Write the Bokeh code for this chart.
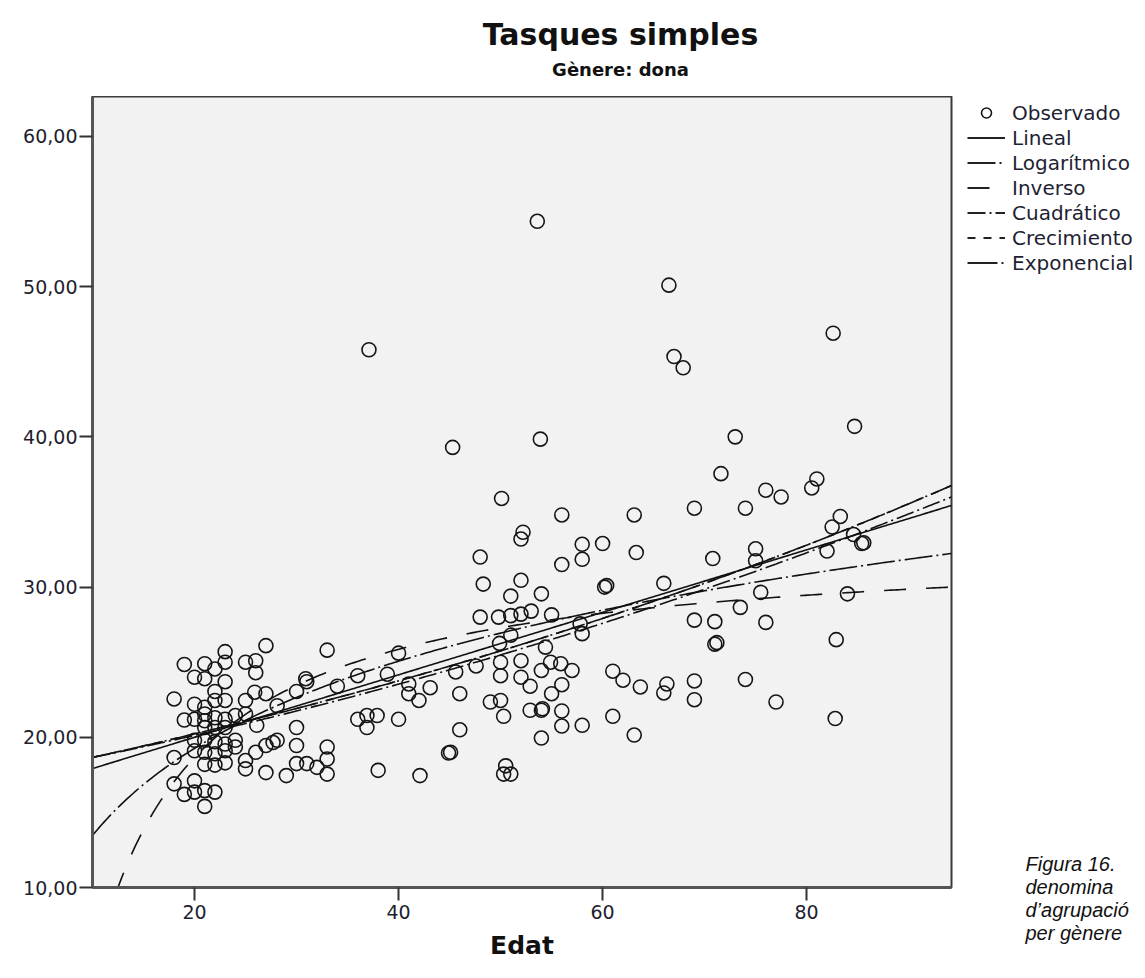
import numpy as np
from bokeh.plotting import figure
from bokeh.layouts import row, column
from bokeh.models import Range1d, FixedTicker, Legend, LegendItem, Label
from bokeh.embed import file_html
from bokeh.resources import INLINE

# ---------------- data ----------------
x_obs = [
    # young cluster
    27.0, 33.0, 23.0, 23.0, 19.0, 21.0, 22.0, 25.0, 26.0, 26.0,
    20.0, 21.0, 23.0, 30.9, 31.0, 22.0, 25.9, 27.0, 28.1, 30.0,
    34.0, 36.0, 18.0, 20.0, 21.0, 22.0, 23.0, 25.0, 19.0, 20.0,
    21.0, 21.0, 21.0, 22.0, 22.0, 23.0, 23.0, 24.0, 25.0, 26.1,
    30.0, 36.9, 37.9, 36.0, 36.9, 38.0, 18.0,
    20.0, 21.0, 22.0, 23.0, 24.0,
    20.0, 21.0, 22.0, 23.0, 24.0,
    21.0, 22.0, 23.0, 25.0, 25.0, 26.0, 27.0, 27.7, 28.1,
    27.0, 29.0, 30.0, 30.0, 31.0, 32.0, 33.0, 33.0, 33.0,
    18.0, 19.0, 20.0, 20.0, 21.0, 22.0, 21.0,
    # middle ages
    50.1, 56.0, 63.1, 69.0, 52.2, 52.0, 58.0, 60.0, 48.0, 56.0,
    58.0, 63.3, 70.8, 48.3, 52.0, 60.2, 60.4, 66.0, 51.0, 54.0,
    48.0, 49.8, 51.0, 52.0, 53.0, 55.0, 57.8, 69.0, 71.0, 58.0,
    51.0, 49.9, 71.0, 71.2, 40.0, 54.4, 38.9, 41.0, 41.0, 42.0,
    43.1, 45.6, 47.6, 50.0, 50.0, 52.0, 54.0, 54.9, 55.9, 57.0,
    52.0, 52.9, 56.0, 55.0, 46.0, 61.0, 62.0, 63.7, 66.3, 66.0,
    69.0, 69.0, 49.0, 50.0, 50.3, 52.9, 54.1, 54.0, 56.0, 56.0,
    58.0, 61.0, 63.1, 54.0, 46.0, 40.0, 44.9, 45.1, 42.1, 50.5,
    50.3, 51.0,
    # older ages
    84.7, 73.0, 71.6, 76.0, 77.5, 74.0, 81.0, 80.5, 83.3, 82.5,
    84.6, 85.4, 85.6, 75.0, 75.0, 82.0, 75.5, 84.0, 73.5, 76.0,
    82.9, 74.0, 77.0, 82.8,
    # outliers
    66.5, 67.0, 67.9, 82.6, 37.1, 53.6, 45.3, 53.9,
]
y_obs = [
    26.1, 25.8, 25.7, 25.0, 24.85, 24.9, 24.55, 25.0, 25.1, 24.3,
    24.0, 23.9, 23.7, 23.9, 23.7, 23.05, 23.0, 22.9, 22.1, 23.05,
    23.4, 24.1, 22.55, 22.2, 22.0, 22.45, 22.45, 22.45, 21.15, 21.2,
    21.55, 21.1, 20.65, 21.3, 20.65, 21.2, 20.65, 21.45, 21.55, 20.8,
    20.65, 21.45, 21.45, 21.2, 20.65, 17.8, 18.65,
    19.8, 19.8, 19.7, 19.55, 19.8,
    19.1, 19.0, 18.9, 19.1, 19.35,
    18.2, 18.15, 18.3, 18.45, 17.9, 19.0, 19.45, 19.65, 19.8,
    17.65, 17.45, 19.45, 18.25, 18.25, 18.0, 19.35, 18.55, 17.55,
    16.9, 16.2, 17.1, 16.35, 16.45, 16.35, 15.4,
    35.9, 34.8, 34.8, 35.25, 33.65, 33.2, 32.85, 32.9, 32.0, 31.5,
    31.85, 32.3, 31.9, 30.2, 30.45, 30.0, 30.1, 30.25, 29.4, 29.55,
    28.0, 28.0, 28.1, 28.2, 28.4, 28.15, 27.55, 27.8, 27.7, 26.9,
    26.8, 26.25, 26.2, 26.3, 25.6, 26.0, 24.2, 23.55, 22.9, 22.45,
    23.3, 24.35, 24.75, 25.0, 24.1, 25.1, 24.45, 25.0, 24.9, 24.45,
    24.0, 23.4, 23.5, 22.9, 22.9, 24.4, 23.8, 23.35, 23.55, 22.95,
    23.75, 22.5, 22.35, 22.45, 21.4, 21.8, 21.9, 21.8, 21.75, 20.75,
    20.8, 21.4, 20.15, 19.95, 20.5, 21.2, 18.95, 19.0, 17.45, 18.1,
    17.55, 17.55,
    40.7, 40.0, 37.55, 36.45, 36.0, 35.25, 37.2, 36.6, 34.7, 34.0,
    33.5, 32.9, 32.95, 32.55, 31.75, 32.4, 29.65, 29.55, 28.65, 27.65,
    26.5, 23.85, 22.35, 21.25,
    50.1, 45.35, 44.6, 46.9, 45.8, 54.35, 39.3, 39.85,
]

x_ticks = [20, 40, 60, 80]
x_tick_labels = ["20", "40", "60", "80"]
y_ticks = [10, 20, 30, 40, 50, 60]
y_tick_labels = ["10,00", "20,00", "30,00", "40,00", "50,00", "60,00"]

model_names = ["Lineal", "Logarítmico", "Inverso", "Cuadrático", "Crecimiento", "Exponencial"]
lineal_coef = [15.84, 0.208]                 # b0 + b1*x
logaritmico_coef = [-5.82, 8.373]            # b0 + b1*ln(x)
inverso_coef = [33.06, -288.2]               # b0 + b1/x
cuadratico_coef = [17.354, 0.1226, 0.0008]   # b0 + b1*x + b2*x^2
crecimiento_coef = [2.8458, 0.008055]        # exp(b0 + b1*x)
exponencial_coef = [17.216, 0.008055]        # b0*exp(b1*x)

title_text = "Tasques simples"
subtitle_text = "Gènere: dona"
caption_lines = ["Figura  16.", "denomina", "d’agrupació", "per gènere"]

# ---------------- page geometry (pixels) ----------------
FONT = "DejaVu Sans"
W_TOTAL, H_TOTAL = 1140, 975
TOP = 96                 # height of the title strip = top of the plotting frame
FRAME_BOTTOM = 887
MAIN_W = 955
H = H_TOTAL - TOP

# ---------------- title strip ----------------
head = figure(width=W_TOTAL, height=TOP, x_range=Range1d(0, W_TOTAL), y_range=Range1d(TOP, 0),
              output_backend="svg", toolbar_location=None,
              x_axis_location=None, y_axis_location=None, min_border=0, frame_align=False)
head.outline_line_color = None
head.background_fill_color = "white"
head.border_fill_color = "white"
head.xgrid.visible = False
head.ygrid.visible = False
head.add_layout(Label(x=620, y=34, text=title_text, text_font=FONT, text_font_style="bold",
                      text_font_size="30px", text_align="center", text_baseline="middle",
                      text_color="#111111"))
head.add_layout(Label(x=620, y=69, text=subtitle_text, text_font=FONT, text_font_style="bold",
                      text_font_size="18px", text_align="center", text_baseline="middle",
                      text_color="#111111"))

# ---------------- main figure ----------------
p = figure(width=MAIN_W, height=H,
           x_range=Range1d(10, 94.2), y_range=Range1d(10, 62.66),
           output_backend="svg", toolbar_location=None,
           min_border_left=92, min_border_right=4,
           min_border_top=0, min_border_bottom=H_TOTAL - FRAME_BOTTOM,
           frame_align=False)

p.background_fill_color = "#f2f2f2"
p.border_fill_color = "white"
p.outline_line_color = "#3a3a3a"
p.outline_line_width = 2
p.xgrid.visible = False
p.ygrid.visible = False

for ax in (p.xaxis[0], p.yaxis[0]):
    ax.axis_line_color = "#555555"
    ax.axis_line_width = 3
    ax.major_tick_line_color = "#333333"
    ax.major_tick_line_width = 2
    ax.major_tick_out = 13
    ax.major_tick_in = 0
    ax.minor_tick_line_color = None
    ax.major_label_text_font = FONT
    ax.major_label_text_font_size = "19px"
    ax.major_label_text_color = "#1e1e2e"

p.xaxis.ticker = FixedTicker(ticks=x_ticks)
p.xaxis.major_label_overrides = {t: l for t, l in zip(x_ticks, x_tick_labels)}
p.xaxis.major_label_standoff = 4
p.yaxis.ticker = FixedTicker(ticks=y_ticks)
p.yaxis.major_label_overrides = {t: l for t, l in zip(y_ticks, y_tick_labels)}
p.yaxis.major_label_standoff = 2

p.xaxis.axis_label = "Edat"
p.xaxis.axis_label_text_font = FONT
p.xaxis.axis_label_text_font_style = "bold"
p.xaxis.axis_label_text_font_size = "25px"
p.xaxis.axis_label_text_color = "#111111"
p.xaxis.axis_label_standoff = 9

# observed points
p.scatter(x_obs, y_obs, marker="circle", size=14, fill_color=None,
          line_color="#151515", line_width=1.6)

# fitted curves
xs = np.linspace(10, 94.2, 300)
curves = {
    "Lineal": lineal_coef[0] + lineal_coef[1] * xs,
    "Logarítmico": logaritmico_coef[0] + logaritmico_coef[1] * np.log(xs),
    "Inverso": inverso_coef[0] + inverso_coef[1] / xs,
    "Cuadrático": cuadratico_coef[0] + cuadratico_coef[1] * xs + cuadratico_coef[2] * xs ** 2,
    "Crecimiento": np.exp(crecimiento_coef[0] + crecimiento_coef[1] * xs),
    "Exponencial": exponencial_coef[0] * np.exp(exponencial_coef[1] * xs),
}
dashes = {
    "Lineal": "solid",
    "Logarítmico": "28 4 2 4",
    "Inverso": "22 20",
    "Cuadrático": "18 4 2 4",
    "Crecimiento": "8 8",
    "Exponencial": "30 4 2 4",
}
for name in model_names:
    p.line(xs, curves[name], line_color="#111111", line_width=1.6,
           line_dash=dashes[name])

# ---------------- right-hand strip: legend + caption ----------------
# y data coordinates of this strip equal page pixel rows
side = figure(width=W_TOTAL - MAIN_W, height=H, x_range=Range1d(0, W_TOTAL - MAIN_W),
              y_range=Range1d(H_TOTAL, TOP),
              output_backend="svg", toolbar_location=None,
              x_axis_location=None, y_axis_location=None, min_border=0,
              frame_align=False)
side.outline_line_color = None
side.background_fill_color = "white"
side.border_fill_color = "white"
side.xgrid.visible = False
side.ygrid.visible = False

nan = [float("nan")]   # legend-key renderers carry no visible data
items = [LegendItem(label="Observado",
                    renderers=[side.scatter(nan, nan, marker="circle", fill_color=None,
                                            line_color="#151515", line_width=1.6)])]
for name in model_names:
    r = side.line(nan, nan, line_color="#222222", line_width=2, line_dash=dashes[name])
    items.append(LegendItem(label=name, renderers=[r]))

legend = Legend(items=items, location=(12, 700), orientation="vertical",
                glyph_width=38, glyph_height=25, label_height=25, spacing=0,
                padding=0, margin=0, label_standoff=7,
                border_line_color=None, background_fill_alpha=0,
                label_text_font=FONT, label_text_font_size="20px",
                label_text_color="#1f1f33")
side.add_layout(legend)

caption_y = [863, 886, 909, 932]
for txt, yy in zip(caption_lines, caption_y):
    side.add_layout(Label(x=70, y=yy, text=txt, text_font="Liberation Sans",
                          text_font_style="italic", text_font_size="20px",
                          text_baseline="middle", text_color="#111111"))

layout = column(head, row(p, side, spacing=0), spacing=0)
open("out.html", "w").write(file_html(layout, INLINE))
